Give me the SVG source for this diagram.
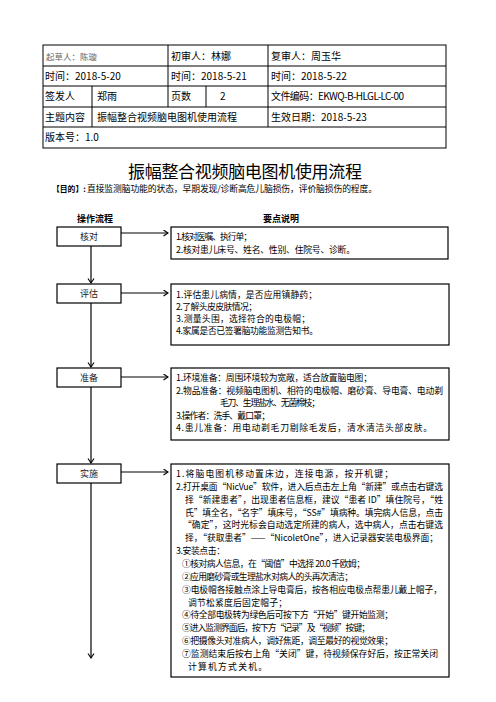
<svg xmlns="http://www.w3.org/2000/svg" width="496" height="702" viewBox="0 0 496 702">
<defs>
<style>
.t{font-family:"Noto Sans CJK SC","Noto Sans",sans-serif;fill:#000}
.tb{font-size:10px}
.bx{fill:#fff;stroke:#000;stroke-width:1.2}
.ln{stroke:#000;stroke-width:1}
.c{stroke:#000;stroke-width:1.2;fill:none}
.p{font-size:8.8px}
.h{font-size:9px;font-weight:bold}
.lb{font-size:9px;text-anchor:middle;fill:#222}
</style>
<marker id="ah" markerWidth="8" markerHeight="8" refX="5" refY="3.5" orient="auto" markerUnits="userSpaceOnUse">
<path d="M0.5,0.5 L5,3.5 L0.5,6.5" fill="none" stroke="#000" stroke-width="1.1"/>
</marker>
</defs>
<rect width="496" height="702" fill="#fff"/>

<g id="header-table">
<rect x="43" y="45" width="403" height="103" fill="none" stroke="#000" stroke-width="1"/>
<line class="ln" x1="43" y1="66" x2="446" y2="66"/>
<line class="ln" x1="43" y1="86" x2="446" y2="86"/>
<line class="ln" x1="43" y1="107" x2="446" y2="107"/>
<line class="ln" x1="43" y1="127" x2="446" y2="127"/>
<line class="ln" x1="168" y1="45" x2="168" y2="107"/>
<line class="ln" x1="268" y1="45" x2="268" y2="127"/>
<line class="ln" x1="92" y1="86" x2="92" y2="127"/>
<line class="ln" x1="206" y1="86" x2="206" y2="107"/>
<text class="t" x="46" y="59.5" font-size="8.5" style="fill:#666">起草人：陈璇</text>
<text class="t tb" x="171" y="60">初审人：林娜</text>
<text class="t tb" x="271" y="60">复审人：周玉华</text>
<text class="t tb" x="45" y="80">时间：2018-5-20</text>
<text class="t tb" x="171" y="80">时间：2018-5-21</text>
<text class="t tb" x="271" y="80">时间：2018-5-22</text>
<text class="t tb" x="45" y="100">签发人</text>
<text class="t tb" x="97" y="100">郑雨</text>
<text class="t tb" x="171" y="100">页数</text>
<text class="t tb" x="220" y="100">2</text>
<text class="t tb" x="271" y="100" textLength="133" lengthAdjust="spacing">文件编码：EKWQ-B-HLGL-LC-00</text>
<text class="t tb" x="45" y="121">主题内容</text>
<text class="t tb" x="97" y="121">振幅整合视频脑电图机使用流程</text>
<text class="t tb" x="271" y="121">生效日期：2018-5-23</text>
<text class="t tb" x="45" y="141">版本号：1.0</text>
</g>

<g id="title">
<text class="t" x="245" y="178" font-size="17" text-anchor="middle" textLength="234" lengthAdjust="spacing">振幅整合视频脑电图机使用流程</text>
<text class="t" x="52" y="192" font-size="7.8" font-weight="bold">【目的】:</text>
<text class="t" x="87" y="192" font-size="8.8" fill="#222" textLength="290" lengthAdjust="spacing">直接监测脑功能的状态，早期发现/诊断高危儿脑损伤，评价脑损伤的程度。</text>
<text class="t h" x="95" y="222" text-anchor="middle">操作流程</text>
<text class="t h" x="281" y="222" text-anchor="middle">要点说明</text>
</g>

<g id="connectors">
<line class="c" x1="91" y1="246" x2="91" y2="283" marker-end="url(#ah)"/>
<line class="c" x1="91" y1="303" x2="91" y2="367" marker-end="url(#ah)"/>
<line class="c" x1="91" y1="387" x2="91" y2="463" marker-end="url(#ah)"/>
<line class="c" x1="91" y1="483" x2="91" y2="658" marker-end="url(#ah)"/>
<line class="c" x1="121" y1="233" x2="168" y2="233" marker-end="url(#ah)"/>
<line class="c" x1="121" y1="293" x2="168" y2="293" marker-end="url(#ah)"/>
<line class="c" x1="121" y1="377" x2="168" y2="377" marker-end="url(#ah)"/>
<line class="c" x1="121" y1="472" x2="168" y2="472" marker-end="url(#ah)"/>
</g>

<g id="step-check">
<rect class="bx" x="57" y="227" width="64" height="19"/>
<text class="t lb" x="89" y="239.5">核对</text>
</g>
<g id="step-assess">
<rect class="bx" x="57" y="284" width="64" height="19"/>
<text class="t lb" x="89" y="296.5">评估</text>
</g>
<g id="step-prepare">
<rect class="bx" x="57" y="368" width="64" height="19"/>
<text class="t lb" x="89" y="380.5">准备</text>
</g>
<g id="step-implement">
<rect class="bx" x="57" y="464" width="64" height="19"/>
<text class="t lb" x="89" y="476.5">实施</text>
</g>

<g id="note-check">
<rect class="bx" x="171" y="227" width="277" height="32"/>
<text class="t p" x="176" y="240" textLength="76" lengthAdjust="spacing">1.核对医嘱、执行单；</text>
<text class="t p" x="176" y="252.5" textLength="179" lengthAdjust="spacing">2.核对患儿床号、姓名、性别、住院号、诊断。</text>
</g>

<g id="note-assess">
<rect class="bx" x="171" y="284" width="278" height="61"/>
<text class="t p" x="176" y="297.5" textLength="141" lengthAdjust="spacing">1.评估患儿病情，是否应用镇静药；</text>
<text class="t p" x="176" y="309.5" textLength="81" lengthAdjust="spacing">2.了解头皮皮肤情况；</text>
<text class="t p" x="176" y="321.5" textLength="134" lengthAdjust="spacing">3.测量头围，选择符合的电极帽；</text>
<text class="t p" x="176" y="334" textLength="142" lengthAdjust="spacing">4.家属是否已签署脑功能监测告知书。</text>
</g>

<g id="note-prepare">
<rect class="bx" x="171" y="368" width="278" height="72"/>
<text class="t p" x="176" y="381" textLength="196" lengthAdjust="spacing">1.环境准备：周围环境较为宽敞，适合放置脑电图；</text>
<text class="t p" x="176" y="393.5" textLength="267" lengthAdjust="spacing">2.物品准备：视频脑电图机、相符的电极帽、磨砂膏、导电膏、电动剃</text>
<text class="t p" x="220" y="406" textLength="100" lengthAdjust="spacing">毛刀、生理盐水、无菌棉枝；</text>
<text class="t p" x="176" y="418.5" textLength="94" lengthAdjust="spacing">3.操作者：洗手、戴口罩；</text>
<text class="t p" x="176" y="431" textLength="256" lengthAdjust="spacing">4.患儿准备：用电动剃毛刀剔除毛发后，清水清洁头部皮肤。</text>
</g>

<g id="note-implement">
<rect class="bx" x="171" y="464" width="278" height="213"/>
<text class="t p" x="176" y="477" textLength="217" lengthAdjust="spacing">1.将脑电图机移动置床边，连接电源，按开机键；</text>
<text class="t p" x="176" y="489.9" textLength="267" lengthAdjust="spacing">2.打开桌面“NicVue”软件，进入后点击左上角“新建”或点击右键选</text>
<text class="t p" x="185" y="502.7" textLength="258" lengthAdjust="spacing">择“新建患者”，出现患者信息框，建议“患者 ID”填住院号，“姓</text>
<text class="t p" x="185" y="515.6" textLength="258" lengthAdjust="spacing">氏”填全名，“名字”填床号，“SS#”填病种。填完病人信息，点击</text>
<text class="t p" x="183" y="528.4" textLength="260" lengthAdjust="spacing">“确定”，这时光标会自动选定所建的病人，选中病人，点击右键选</text>
<text class="t p" x="185" y="541.3" textLength="253" lengthAdjust="spacing">择，“获取患者”——“NicoletOne”，进入记录器安装电极界面；</text>
<text class="t p" x="176" y="554.1" textLength="49" lengthAdjust="spacing">3.安装点击：</text>
<text class="t p" x="182" y="567" textLength="183" lengthAdjust="spacing">①核对病人信息，在“阈值”中选择 20.0 千欧姆；</text>
<text class="t p" x="182" y="579.8" textLength="171" lengthAdjust="spacing">②应用磨砂膏或生理盐水对病人的头再次清洁；</text>
<text class="t p" x="182" y="592.7" textLength="260" lengthAdjust="spacing">③电极帽各接触点涂上导电膏后，按各相应电极点帮患儿戴上帽子，</text>
<text class="t p" x="188" y="605.5" textLength="99" lengthAdjust="spacing">调节松紧度后固定帽子；</text>
<text class="t p" x="182" y="618.4" textLength="211" lengthAdjust="spacing">④待全部电极转为绿色后可按下方“开始”键开始监测；</text>
<text class="t p" x="182" y="631.2" textLength="188" lengthAdjust="spacing">⑤进入监测界面后，按下方“记录”及“视频”按键；</text>
<text class="t p" x="182" y="644.1" textLength="211" lengthAdjust="spacing">⑥把摄像头对准病人，调好焦距，调至最好的视觉效果；</text>
<text class="t p" x="182" y="656.9" textLength="256" lengthAdjust="spacing">⑦监测结束后按右上角“关闭”键，待视频保存好后，按正常关闭</text>
<text class="t p" x="188" y="669.8" textLength="79" lengthAdjust="spacing">计算机方式关机。</text>
</g>
</svg>
